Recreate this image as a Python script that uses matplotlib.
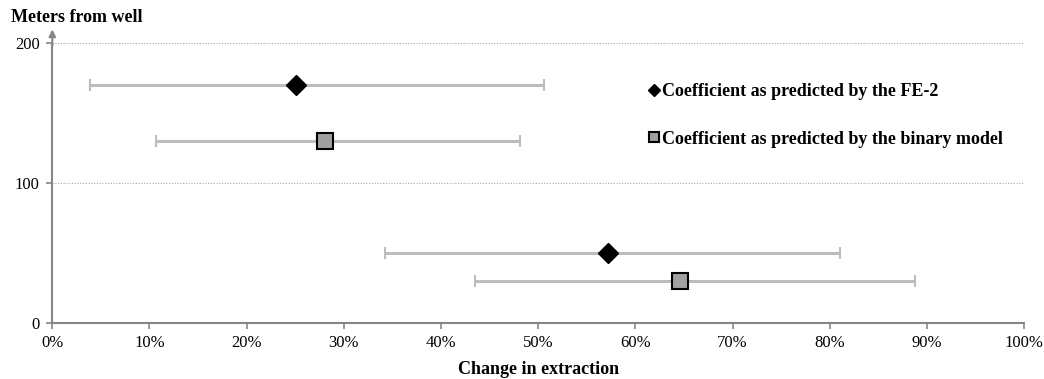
import numpy as np
from matplotlib import pyplot as plt
from matplotlib.ticker import FuncFormatter

plt.rcParams['font.family'] = ['Liberation Serif', 'DejaVu Serif']

# FE-2 model estimates (change in extraction, %) at each distance
fe2_dist = [170, 50]
fe2_coef = [25.1, 57.2]
fe2_low = [3.9, 34.2]
fe2_high = [50.6, 81.1]

# binary model estimates
bin_dist = [130, 30]
bin_coef = [28.1, 64.6]
bin_low = [10.7, 43.5]
bin_high = [48.1, 88.8]

x_ticks = [0, 10, 20, 30, 40, 50, 60, 70, 80, 90, 100]
y_ticks = [0, 100, 200]

axis_grey = '#868686'
bar_grey = '#BDBDBD'

fig = plt.figure(figsize=(10.44, 3.79), dpi=100)
ax = fig.add_axes([0.0501, 0.1485, 0.9309, 0.7372])

def draw_series(dist, coef, low, high, **kw):
    coef = np.array(coef)
    err = [coef - np.array(low), np.array(high) - coef]
    ax.errorbar(coef, dist, xerr=err, fmt='none', ecolor=bar_grey,
                elinewidth=2.2, capsize=4, capthick=1.5, zorder=2)
    return ax.plot(coef, dist, linestyle='none', zorder=3, **kw)[0]

h1 = draw_series(fe2_dist, fe2_coef, fe2_low, fe2_high,
                 marker='D', ms=10, color='black', markeredgecolor='black')
h2 = draw_series(bin_dist, bin_coef, bin_low, bin_high,
                 marker='s', ms=11.5, color='#A0A0A0', markeredgecolor='black',
                 markeredgewidth=1.5)

ax.set_xlim(0, 100)
ax.set_ylim(0, 200)
ax.set_xticks(x_ticks)
ax.set_yticks(y_ticks)
ax.xaxis.set_major_formatter(FuncFormatter(lambda v, p: '{:.0f}%'.format(v)))
ax.tick_params(axis='both', direction='out', length=4, width=1.2, color=axis_grey,
               labelsize=12, pad=5)

for y in y_ticks[1:]:
    ax.axhline(y, color='#A8A8A8', linestyle=(0, (1, 1.5)), linewidth=0.8, zorder=1)

for s in ['top', 'right']:
    ax.spines[s].set_visible(False)
for s in ['left', 'bottom']:
    ax.spines[s].set_color(axis_grey)
    ax.spines[s].set_linewidth(1.5)

# arrow head on top of the y axis
ax.annotate('', xy=(0, 1.05), xytext=(0, 0.99), xycoords='axes fraction',
            arrowprops=dict(arrowstyle='-|>', color=axis_grey, lw=1.5,
                            mutation_scale=10, shrinkA=0, shrinkB=0),
            annotation_clip=False)

fig.text(0.011, 0.955, 'Meters from well', fontsize=13, fontweight='bold', ha='left', va='center')
ax.set_xlabel('Change in extraction', fontsize=13, fontweight='bold', labelpad=7)

leg = ax.legend([h1, h2], ['Coefficient as predicted by the FE-2',
                           'Coefficient as predicted by the binary model'],
                loc='upper left', bbox_to_anchor=(0.597, 0.915), frameon=False,
                prop={'weight': 'bold', 'size': 13}, handlelength=0.6,
                handletextpad=0.15, labelspacing=1.68, markerscale=0.6)

plt.savefig('out.png', dpi=100)
